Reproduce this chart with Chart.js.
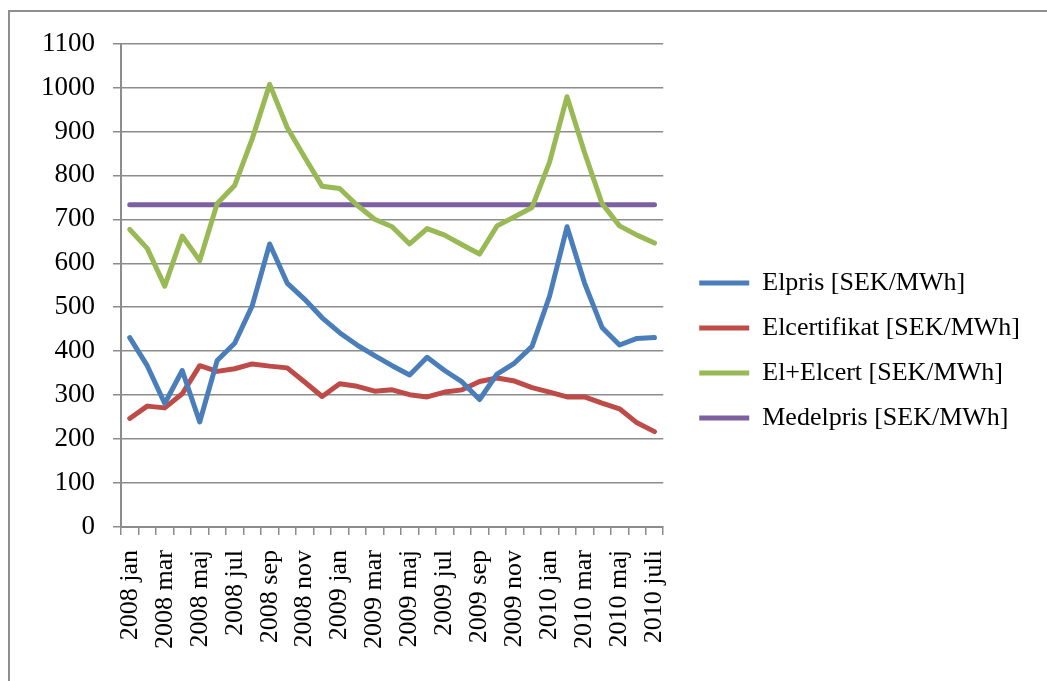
<!DOCTYPE html>
<html>
<head>
<meta charset="utf-8">
<script src="https://cdn.jsdelivr.net/npm/chart.js@4.4.1/dist/chart.umd.min.js"></script>
<style>
  body { margin: 0; background: #fff; overflow: hidden; }
  .frame { position: absolute; left: 8px; top: 10px; width: 1100px; height: 720px; border: 2px solid #8f8f8f; }
  .wrap { position: absolute; left: 9px; top: 12px; width: 1030px; height: 648px; }
</style>
</head>
<body>
<div class="frame"></div>
<div class="wrap"><canvas id="chart"></canvas></div>
<script>
const months = [
  '2008 jan', '2008 feb', '2008 mar', '2008 apr', '2008 maj', '2008 jun', '2008 jul', '2008 aug',
  '2008 sep', '2008 okt', '2008 nov', '2008 dec', '2009 jan', '2009 feb', '2009 mar', '2009 apr',
  '2009 maj', '2009 jun', '2009 jul', '2009 aug', '2009 sep', '2009 okt', '2009 nov', '2009 dec',
  '2010 jan', '2010 feb', '2010 mar', '2010 apr', '2010 maj', '2010 jun', '2010 juli'
];

const elpris = [431, 367, 281, 356, 239, 379, 418, 503, 644, 555, 518, 476, 442, 414, 390, 367,
  346, 386, 356, 330, 290, 348, 373, 411, 525, 683, 555, 454, 414, 429, 431];

const elcertifikat = [247, 275, 271, 303, 367, 354, 360, 371, 366, 362, 330, 297, 326, 320, 309, 312,
  301, 296, 307, 312, 331, 339, 332, 317, 307, 296, 296, 282, 269, 237, 217];

const elPlusElcert = [677, 634, 548, 662, 606, 736, 777, 883, 1007, 909, 841, 775, 770, 732, 700, 683,
  644, 679, 664, 642, 621, 685, 706, 727, 830, 979, 852, 736, 685, 664, 646];

const medelpris = new Array(months.length).fill(733);

const seriesNames = ['Elpris [SEK/MWh]', 'Elcertifikat [SEK/MWh]', 'El+Elcert [SEK/MWh]', 'Medelpris [SEK/MWh]'];
const seriesColors = ['#4a7ebb', '#be4b48', '#98b954', '#7d60a0'];

const font = { family: '"Liberation Serif", serif', size: 26 };
const axisGray = '#8c8c8c';

const mk = (i, data) => ({
  label: seriesNames[i],
  data: data,
  borderColor: seriesColors[i],
  backgroundColor: seriesColors[i],
  borderWidth: 5,
  pointRadius: 0,
  tension: 0,
  borderJoinStyle: 'round',
  borderCapStyle: 'round'
});

new Chart(document.getElementById('chart'), {
  type: 'line',
  data: {
    labels: months,
    datasets: [mk(0, elpris), mk(1, elcertifikat), mk(2, elPlusElcert), mk(3, medelpris)]
  },
  options: {
    responsive: true,
    maintainAspectRatio: false,
    animation: false,
    layout: { padding: { top: 29, right: 9, bottom: 0, left: 0 } },
    plugins: {
      tooltip: { enabled: false },
      legend: {
        position: 'right',
        maxWidth: 420,
        labels: {
          font: font,
          color: '#000',
          boxWidth: 50,
          boxHeight: 5,
          padding: 19,
          useBorderRadius: true,
          borderRadius: 2.5,
          generateLabels: chart => chart.data.datasets.map((ds, i) => ({
            text: ds.label,
            fillStyle: ds.borderColor,
            strokeStyle: ds.borderColor,
            lineWidth: 0,
            hidden: false,
            datasetIndex: i,
            fontColor: '#000'
          }))
        }
      }
    },
    scales: {
      x: {
        offset: true,
        grid: { display: true, drawOnChartArea: false, offset: true, tickLength: 8, color: axisGray, lineWidth: 1.5 },
        border: { color: axisGray, width: 2 },
        ticks: {
          autoSkip: false,
          minRotation: 90,
          maxRotation: 90,
          padding: 15,
          color: '#000',
          font: font,
          callback: function (v, i) { return i % 2 === 0 ? this.getLabelForValue(v) : ''; }
        },
        afterFit: s => { s.height = 133; }
      },
      y: {
        min: 0,
        max: 1100,
        grid: { color: axisGray, lineWidth: 1.5, tickLength: 8 },
        border: { color: axisGray, width: 2 },
        ticks: {
          stepSize: 100,
          padding: 18,
          color: '#000',
          font: { family: font.family, size: 27, lineHeight: 1 },
          callback: v => String(v)
        },
        afterFit: s => { s.width = 112; }
      },
      spacer: {
        type: 'linear',
        position: 'right',
        display: true,
        grid: { display: false },
        border: { display: false },
        ticks: { display: false },
        afterFit: s => { s.width = 17; }
      }
    }
  }
});
</script>
</body>
</html>
